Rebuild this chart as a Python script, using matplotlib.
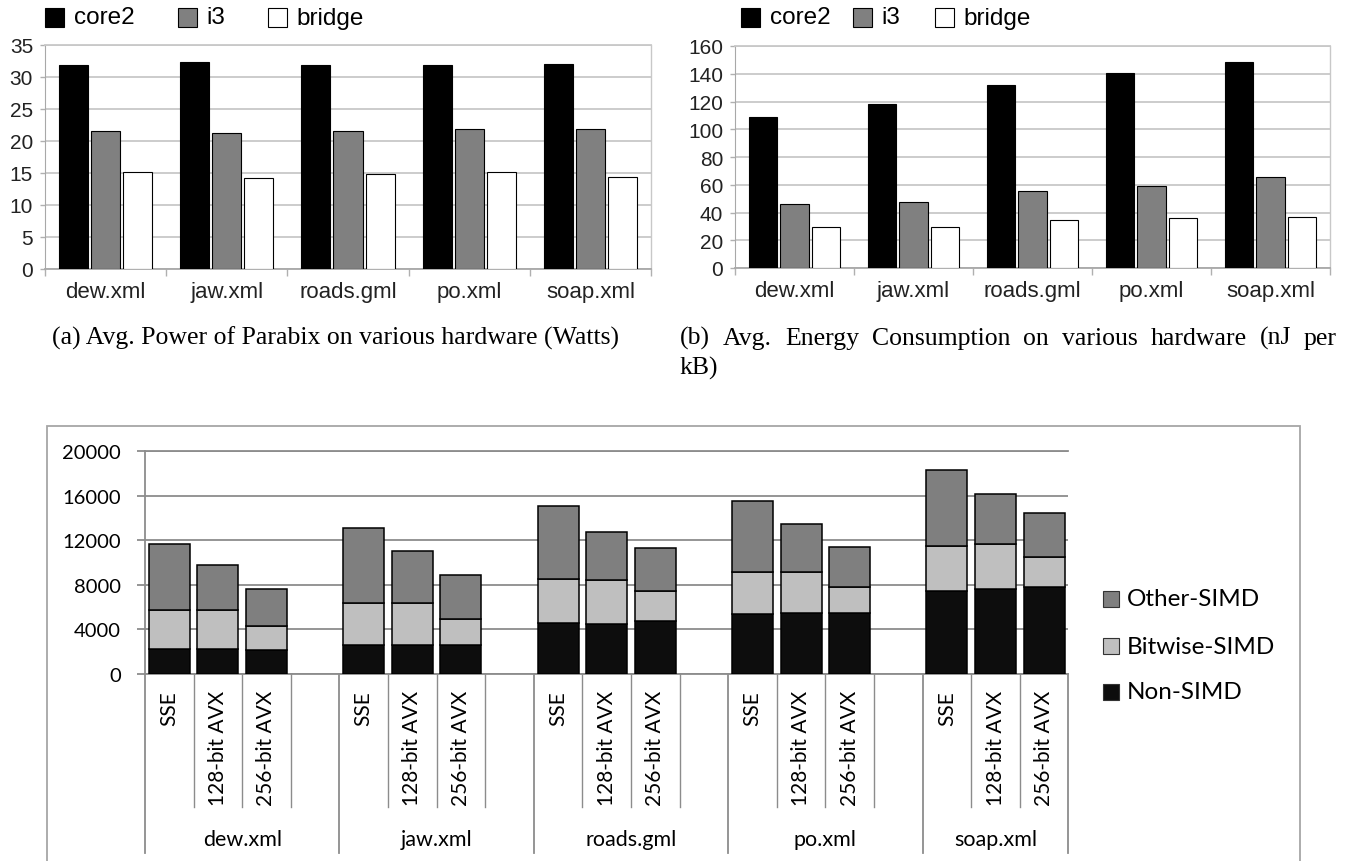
import matplotlib
matplotlib.use("Agg")
import matplotlib.pyplot as plt
from matplotlib.patches import Rectangle
from matplotlib.transforms import ScaledTranslation
import numpy as np

# ---------------------------------------------------------------- data
files = ["dew.xml", "jaw.xml", "roads.gml", "po.xml", "soap.xml"]
machines = ["core2", "i3", "bridge"]

# average power (Watts)
power_core2 = [31.8, 32.4, 31.8, 31.9, 32.0]
power_i3 = [21.6, 21.2, 21.6, 21.9, 21.8]
power_bridge = [15.2, 14.2, 14.8, 15.1, 14.4]

# average energy consumption (nJ per kB)
energy_core2 = [108.7, 118.3, 131.8, 140.2, 148.2]
energy_i3 = [46.0, 47.7, 55.7, 59.3, 65.3]
energy_bridge = [29.4, 29.6, 34.7, 35.9, 36.9]

# instruction mix per file and build (SSE, 128-bit AVX, 256-bit AVX)
isa_variants = ["SSE", "128-bit AVX", "256-bit AVX"]
mix_series = ["Non-SIMD", "Bitwise-SIMD", "Other-SIMD"]
non_simd = [2270, 2240, 2180, 2600, 2600, 2570, 4540, 4480, 4720,
            5380, 5440, 5500, 7410, 7590, 7770]
bitwise_simd = [3500, 3530, 2150, 3770, 3770, 2360, 3950, 3920, 2720,
                3740, 3710, 2330, 4070, 4070, 2690]
other_simd = [5920, 4040, 3260, 6730, 4690, 3920, 6550, 4340, 3860,
              6370, 4280, 3560, 6850, 4480, 4010]

# ---------------------------------------------------------------- figure
W, H, DPI = 1353, 862, 100
fig = plt.figure(figsize=(W / DPI, H / DPI), dpi=DPI)
SANS = "Liberation Sans"
SERIF = "Liberation Serif"
CAL = "Lato"
CAPTION_SIZE = 18.5


def axes_px(left, top, right, bottom):
    return fig.add_axes([left / W, 1 - bottom / H,
                         (right - left) / W, (bottom - top) / H])


def px_legend(x0, yc, labels, colors, gaps, box=19, pad=10, size=17.5,
              family=SANS):
    """Row of square swatches with labels, laid out in pixel units."""
    x = x0
    renderer = fig.canvas.get_renderer()
    for lab, col, gap in zip(labels, colors, gaps):
        fig.patches.append(Rectangle((x / W, 1 - (yc + box / 2) / H),
                                     box / W, box / H,
                                     transform=fig.transFigure,
                                     facecolor=col, edgecolor="black",
                                     linewidth=0.8))
        t = fig.text((x + box + pad) / W, 1 - yc / H, lab, fontsize=size,
                     family=family, va="center", ha="left")
        w = t.get_window_extent(renderer).width
        x = x + box + pad + w + gap


def hw_chart(ax, series, ymax, step):
    centers = np.arange(len(files)) + 0.5
    colors = ["black", "#808080", "white"]
    offsets = [-0.265, 0.0, 0.265]
    for vals, col, off in zip(series, colors, offsets):
        ax.bar(centers + off, vals, width=0.24, color=col,
               edgecolor="black", linewidth=0.8, zorder=3)
    ax.set_xlim(0, len(files))
    ax.set_ylim(0, ymax)
    ax.set_yticks(np.arange(0, ymax + 1, step))
    ax.yaxis.grid(True, color="#c8c8c8", linewidth=1.3)
    ax.set_axisbelow(True)
    ax.set_xticks(centers, files)
    ax.set_xticks(np.arange(len(files) + 1), minor=True)
    ax.tick_params(axis="x", which="major", length=0, pad=8.5,
                   labelsize=16, labelcolor="#222222")
    ax.tick_params(axis="x", which="minor", length=5, width=1.0,
                   color="#b0b0b0")
    ax.tick_params(axis="y", length=3.6, width=1.0, color="#b0b0b0",
                   pad=5, labelsize=15, labelcolor="#222222")
    for lab in ax.get_xticklabels() + ax.get_yticklabels():
        lab.set_family(SANS)
    ax.spines["top"].set_color("#c8c8c8")
    ax.spines["top"].set_linewidth(1.3)
    ax.spines["right"].set_color("#c8c8c8")
    ax.spines["right"].set_linewidth(1.0)
    ax.spines["left"].set_color("#a8a8a8")
    ax.spines["bottom"].set_color("#a8a8a8")
    ax.spines["bottom"].set_linewidth(1.3)


# (a) power
ax_pow = axes_px(45, 46, 651, 270)
hw_chart(ax_pow, [power_core2, power_i3, power_bridge], 35, 5)
px_legend(45, 18.5, machines, ["black", "#808080", "white"], [43, 42, 0])

# (b) energy
ax_en = axes_px(735, 47, 1330, 269)
hw_chart(ax_en, [energy_core2, energy_i3, energy_bridge], 160, 20)
px_legend(741, 18.5, machines, ["black", "#808080", "white"], [22, 34, 0])

# captions
renderer = fig.canvas.get_renderer()
fig.text(335 / W, 1 - 345 / H,
         "(a) Avg. Power of Parabix on various hardware (Watts)",
         family=SERIF, fontsize=CAPTION_SIZE, ha="center", va="baseline")


def justified_line(words, x_left, x_right, y_base, size=CAPTION_SIZE):
    texts = [fig.text(0, 1 - y_base / H, w, family=SERIF, fontsize=size,
                      ha="left", va="baseline") for w in words]
    widths = [t.get_window_extent(renderer).width for t in texts]
    gap = (x_right - x_left - sum(widths)) / (len(words) - 1)
    x = x_left
    for t, w in zip(texts, widths):
        t.set_x(x / W)
        x += w + gap


justified_line(["(b)", "Avg.", "Energy", "Consumption", "on", "various",
                "hardware", "(nJ", "per"], 680, 1337, 345)
fig.text(680 / W, 1 - 375 / H, "kB)", family=SERIF, fontsize=CAPTION_SIZE,
         ha="left", va="baseline")

# ---------------------------------------------------------------- instruction mix
GRID = "#8c8c8c"
fig.patches.append(Rectangle((47 / W, 1 - 880 / H), (1300 - 47) / W,
                             (880 - 427) / H, transform=fig.transFigure,
                             facecolor="none", edgecolor="#a6a6a6",
                             linewidth=1.3))

AX_TOP, AX_BOT = 452, 675
ax_mix = axes_px(145, AX_TOP, 1068.4, AX_BOT)
n_files, n_var = len(files), len(isa_variants)
slots = np.array([4 * g + v for g in range(n_files) for v in range(n_var)])
mix_colors = ["#0d0d0d", "#bfbfbf", "#7f7f7f"]
bottom = np.zeros(len(slots))
for vals, col, lab in zip([non_simd, bitwise_simd, other_simd], mix_colors,
                          mix_series):
    ax_mix.bar(slots, vals, width=0.845, bottom=bottom, color=col,
               edgecolor="black", linewidth=1.1, zorder=3, label=lab)
    bottom += np.array(vals)

n_slots = 4 * n_files - 1
ax_mix.set_xlim(-0.5, n_slots - 0.5)
ax_mix.set_ylim(0, 20000)
ax_mix.set_yticks(np.arange(0, 20001, 4000))
ax_mix.yaxis.grid(True, color=GRID, linewidth=1.3)
ax_mix.set_axisbelow(True)
ax_mix.set_xticks([])
ax_mix.tick_params(axis="y", length=5.8, width=1.3, color=GRID, pad=11.5,
                   labelsize=14.5)
for lab in ax_mix.get_yticklabels():
    lab.set_family(CAL)
ax_mix.spines["right"].set_visible(False)
ax_mix.spines["top"].set_color(GRID)
ax_mix.spines["top"].set_linewidth(1.3)
for side in ("left", "bottom"):
    ax_mix.spines[side].set_color(GRID)
    ax_mix.spines[side].set_linewidth(1.3)

# hierarchical category axis below the bars
ax_h = AX_BOT - AX_TOP
xtr = ax_mix.get_xaxis_transform()
short_len, long_len = (808 - AX_BOT) / ax_h, (854 - AX_BOT) / ax_h
for g in range(n_files):
    start = 4 * g - 0.5
    ax_mix.plot([start, start], [0, -long_len], transform=xtr,
                clip_on=False, color=GRID, linewidth=1.3)
    inner = [start + 1, start + 2] + ([start + 3] if g < n_files - 1 else [])
    for b in inner:
        ax_mix.plot([b, b], [0, -short_len], transform=xtr, clip_on=False,
                    color=GRID, linewidth=1.0)
    end = n_slots - 0.5 if g == n_files - 1 else start + 4
    ax_mix.text((start + end) / 2, 0, files[g], family=CAL, fontsize=15.5,
                ha="center", va="center",
                transform=xtr + ScaledTranslation(0, -1.65,
                                                  fig.dpi_scale_trans))
ax_mix.plot([n_slots - 0.5] * 2, [0, -long_len], transform=xtr,
            clip_on=False, color=GRID, linewidth=1.3)
for s, name in zip(slots, isa_variants * n_files):
    ax_mix.text(s, 0, name, family=CAL, fontsize=15, rotation=90,
                ha="center", va="top",
                transform=xtr + ScaledTranslation(0, -0.16,
                                                  fig.dpi_scale_trans))

# legend, top entry first
for yc, col, lab in zip([600, 647, 693], mix_colors[::-1], mix_series[::-1]):
    fig.patches.append(Rectangle((1103 / W, 1 - (yc + 8) / H), 16 / W,
                                 16 / H, transform=fig.transFigure,
                                 facecolor=col, edgecolor="#333333",
                                 linewidth=0.8))
    fig.text(1127 / W, 1 - yc / H, lab, family=CAL, fontsize=17.5,
             ha="left", va="center")

fig.savefig("out.png", dpi=DPI)
